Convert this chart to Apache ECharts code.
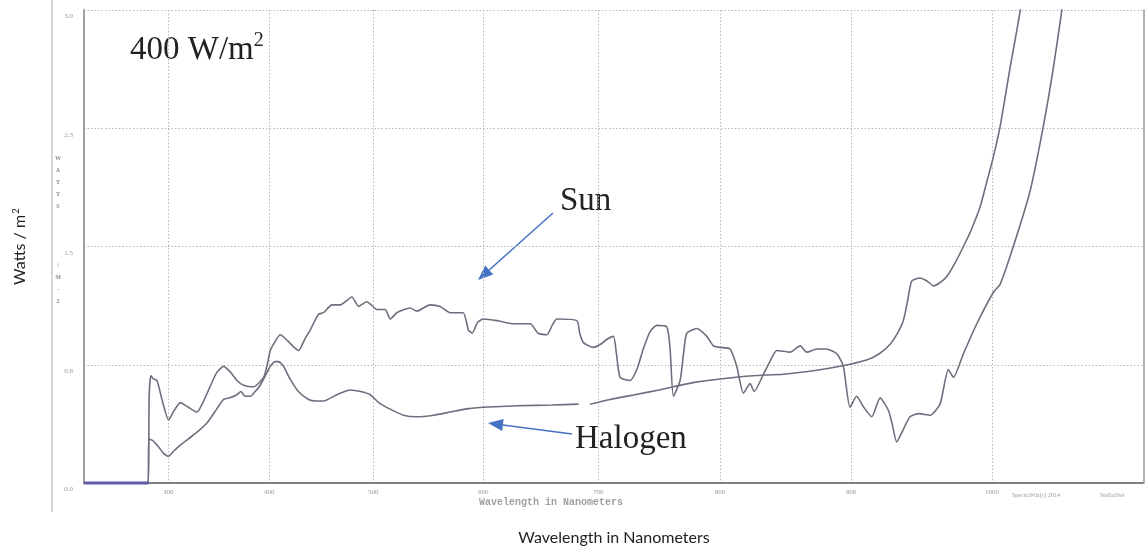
<!DOCTYPE html>
<html><head><meta charset="utf-8">
<script src="https://cdn.jsdelivr.net/npm/echarts@6/dist/echarts.min.js"></script>
<style>html,body{margin:0;padding:0;background:#fff}#c{width:1148px;height:553px}</style>
</head><body><div id="c"></div>
<script>
// Spectrometer wavelength calibration (nm -> detector channel), axis is non-linear in nm
const calibNm      = [200, 300, 400, 500, 600, 700, 800, 900, 1000, 1100];
const calibChannel = [0,   98,  199, 303, 413, 528, 650, 781, 922,  1074];
const xTickNm = [300, 400, 500, 600, 700, 800, 900, 1000];
const yTicks = [0, 0.75, 1.5, 2.25, 3.0];
const xRangeNm = [214, 1100];

const sunNm = [214,279.5,280.5,282.3,285,288.5,294,300.3,305,311.9,320,328.4,335,342,348,354.8,362,368,374.6,384.5,394.4,398,401,405,410.6,418,424,428.3,434,439.4,447.4,452.2,460.3,468.3,479.5,485.9,493.9,503.4,510.9,515.5,521.5,533.6,539.7,551.8,560.9,570,581.8,586.6,590,595,600.3,612,626.4,640.9,647.8,655.4,660,664.1,681.5,684,687.2,695.9,702,707,712.5,715,718,726.2,731.7,737,742.6,748.1,756.3,759,761.7,767.2,770,772.7,780.9,789.1,794.5,800,807.6,812.7,817.8,822.9,826,833.1,838,843.3,853.4,861.1,866.2,873.8,881,889.1,894.1,899.2,903.9,909,914.7,920.6,926.5,929,932.4,936,941.8,948,956,963.1,969,972.6,979.7,989.2,1000.9,1005.3,1014,1025,1033.7,1040.3,1045.8,1050];
const sunW  = [0,0,0.55,0.68,0.66,0.65,0.52,0.40,0.45,0.51,0.48,0.45,0.52,0.62,0.70,0.74,0.70,0.65,0.62,0.61,0.67,0.75,0.84,0.89,0.94,0.90,0.86,0.84,0.91,0.97,1.07,1.08,1.13,1.13,1.18,1.12,1.15,1.10,1.10,1.04,1.08,1.11,1.09,1.13,1.12,1.08,1.08,0.97,0.95,1.02,1.04,1.03,1.01,1.01,0.95,0.94,1.00,1.04,1.03,0.95,0.89,0.86,0.88,0.91,0.93,0.82,0.67,0.65,0.72,0.85,0.96,1.00,0.99,0.85,0.55,0.65,0.82,0.95,0.98,0.93,0.87,0.86,0.85,0.74,0.57,0.63,0.58,0.69,0.77,0.84,0.83,0.87,0.83,0.85,0.85,0.82,0.74,0.48,0.55,0.48,0.42,0.54,0.46,0.38,0.26,0.32,0.42,0.44,0.43,0.50,0.72,0.67,0.82,1.01,1.21,1.26,1.50,1.85,2.26,2.63,2.99,3.3];

const halNm = [214,279.6,280,284,290,295,300.3,305,311.9,320,330,338.3,346,354.8,361,368,372,376,381.2,386,391.1,397.7,401,405.8,409,413.8,420,428,437.8,445,452.2,465,477.9,488,497.1,505,515,527.5,539.7,555,570,585,600.3,630,660,682.9,688,693,710,730,750,761.7,780,800,825,848.3,870,891.6,911,920,927.7,933,937.1,940,943,948.9,954,958.4,963,967.9,974,979.7,985,991.5,996,1000.9,1005.3,1011.8,1018.4,1022];
const halW  = [0,0,0.28,0.27,0.23,0.19,0.17,0.20,0.24,0.28,0.33,0.38,0.45,0.53,0.54,0.56,0.58,0.55,0.55,0.58,0.62,0.70,0.74,0.77,0.77,0.74,0.66,0.58,0.53,0.52,0.52,0.56,0.59,0.58,0.56,0.51,0.47,0.43,0.42,0.43,0.45,0.47,0.48,0.49,0.495,0.50,null,0.50,0.53,0.56,0.59,0.61,0.64,0.66,0.68,0.69,0.71,0.74,0.78,0.82,0.88,0.95,1.03,1.15,1.28,1.30,1.28,1.25,1.27,1.31,1.40,1.50,1.60,1.75,1.90,2.07,2.26,2.63,2.99,3.3];

const darkNm = [214, 280];
const darkW  = [0, 0];

function nmToCh(nm) {
  let i = 0;
  while (i < calibNm.length - 2 && nm > calibNm[i + 1]) i++;
  const t = (nm - calibNm[i]) / (calibNm[i + 1] - calibNm[i]);
  return calibChannel[i] + t * (calibChannel[i + 1] - calibChannel[i]);
}
function toSeries(nm, w) { return nm.map((x, i) => [nmToCh(x), w[i]]); }
const xTickCh = xTickNm.map(nmToCh);

const chart = echarts.init(document.getElementById('c'), null, {renderer: 'canvas'});
const curveColor = '#6e6e7e';
const blue = '#4472C4';

function arrow(x1, y1, x2, y2) {
  const dx = x2 - x1, dy = y2 - y1, L = Math.hypot(dx, dy);
  const ux = dx / L, uy = dy / L, hl = 15, hw = 6;
  const bx = x2 - ux * hl, by = y2 - uy * hl;
  return [
    {type: 'line', shape: {x1, y1, x2: bx, y2: by}, style: {stroke: blue, lineWidth: 1.5}},
    {type: 'polygon', shape: {points: [[x2, y2], [bx - uy * hw, by + ux * hw], [bx + uy * hw, by - ux * hw]]}, style: {fill: blue}}
  ];
}

const tinyFont = 'Liberation Serif';
chart.setOption({
  animation: false,
  backgroundColor: '#fff',
  grid: {left: 84, right: 4, top: 10, bottom: 70, containLabel: false, outerBoundsMode: 'none'},
  xAxis: {
    type: 'value', min: nmToCh(xRangeNm[0]), max: nmToCh(xRangeNm[1]),
    name: 'Wavelength in Nanometers', nameLocation: 'middle', nameGap: 47,
    nameTextStyle: {fontFamily: 'Lato', fontSize: 16, color: '#222'},
    axisLine: {show: true, onZero: false, lineStyle: {color: '#808080', width: 2, type: [3, 1]}},
    axisTick: {show: false, customValues: xTickCh},
    axisLabel: {customValues: xTickCh, margin: 6, fontSize: 7, fontFamily: tinyFont, color: '#999',
      formatter: v => { const i = xTickCh.findIndex(c => Math.abs(c - v) < 0.01); return i >= 0 ? String(xTickNm[i]) : ''; }},
    splitLine: {show: true, lineStyle: {color: '#b8b8b8', type: [1.5, 2], width: 1}}
  },
  yAxis: [{
    type: 'value', min: 0, max: 3, interval: 0.75,
    name: 'Watts / m{s|2}', nameLocation: 'middle', nameGap: 55, nameRotate: 90,
    nameTextStyle: {fontFamily: 'Lato', fontSize: 16, color: '#222', rich: {s: {fontFamily: 'Lato', fontSize: 10, verticalAlign: 'top', padding: [0, 0, 8, 1]}}},
    axisLine: {show: true, lineStyle: {color: '#a0a0a0', width: 2}},
    axisTick: {show: false},
    axisLabel: {margin: 11, fontSize: 7, fontFamily: tinyFont, color: '#999', verticalAlign: 'top', padding: [3, 0, 0, 0],
      formatter: v => v.toFixed(1)},
    splitLine: {show: true, lineStyle: {color: '#b8b8b8', type: [1.5, 2], width: 1}}
  }, {
    type: 'value', min: 0, max: 3, position: 'right',
    axisLine: {show: true, lineStyle: {color: '#999', width: 1.5}},
    axisTick: {show: false}, axisLabel: {show: false}, splitLine: {show: false}
  }],
  series: [
    {name: 'Sun', type: 'line', data: toSeries(sunNm, sunW), showSymbol: false, smooth: 0.2,
      lineStyle: {color: curveColor, width: 1.6}, clip: true},
    {name: 'Halogen', type: 'line', data: toSeries(halNm, halW), showSymbol: false, smooth: 0.2, connectNulls: false,
      lineStyle: {color: curveColor, width: 1.6}, clip: true},
    {name: 'Dark', type: 'line', data: toSeries(darkNm, darkW), showSymbol: false,
      lineStyle: {color: '#5e5ea8', width: 3}, clip: false}
  ],
  graphic: [
    {type: 'line', shape: {x1: 52, y1: 0, x2: 52, y2: 512}, style: {stroke: '#c8c8c8', lineWidth: 1.5}},
    {type: 'text', x: 58, y: 182, style: {text: 'W\nA\nT\nT\nS', font: 'bold 6px "Liberation Serif"', fill: '#888', lineHeight: 12, align: 'center', verticalAlign: 'middle'}},
    {type: 'text', x: 58, y: 283, style: {text: '/\nM\n-\n2', font: 'bold 6px "Liberation Serif"', fill: '#888', lineHeight: 12, align: 'center', verticalAlign: 'middle'}},
    {type: 'text', x: 551, y: 502, style: {text: 'Wavelength in Nanometers', font: 'bold 10px "Liberation Mono"', fill: '#a0a0a0', align: 'center', verticalAlign: 'middle'}},
    {type: 'text', x: 1012, y: 495, style: {text: 'SpectraWiz(c) 2014', font: '6px "Liberation Serif"', fill: '#999', align: 'left', verticalAlign: 'middle'}},
    {type: 'text', x: 1100, y: 495, style: {text: 'StellarNet', font: '6px "Liberation Serif"', fill: '#999', align: 'left', verticalAlign: 'middle'}},
    {type: 'text', x: 130, y: 50, style: {text: '400 W/m{s|2}', font: '33px "Liberation Serif"', fill: '#222', verticalAlign: 'middle',
      rich: {s: {font: '20px "Liberation Serif"', fill: '#222', padding: [0, 0, 18, 0]}}}},
    {type: 'text', x: 560, y: 201, style: {text: 'Sun', font: '33px "Liberation Serif"', fill: '#222', verticalAlign: 'middle'}},
    {type: 'text', x: 575, y: 439, style: {text: 'Halogen', font: '33px "Liberation Serif"', fill: '#222', verticalAlign: 'middle'}},
    ...arrow(553, 213, 478, 280),
    ...arrow(572, 434, 488, 423)
  ]
});
</script></body></html>
